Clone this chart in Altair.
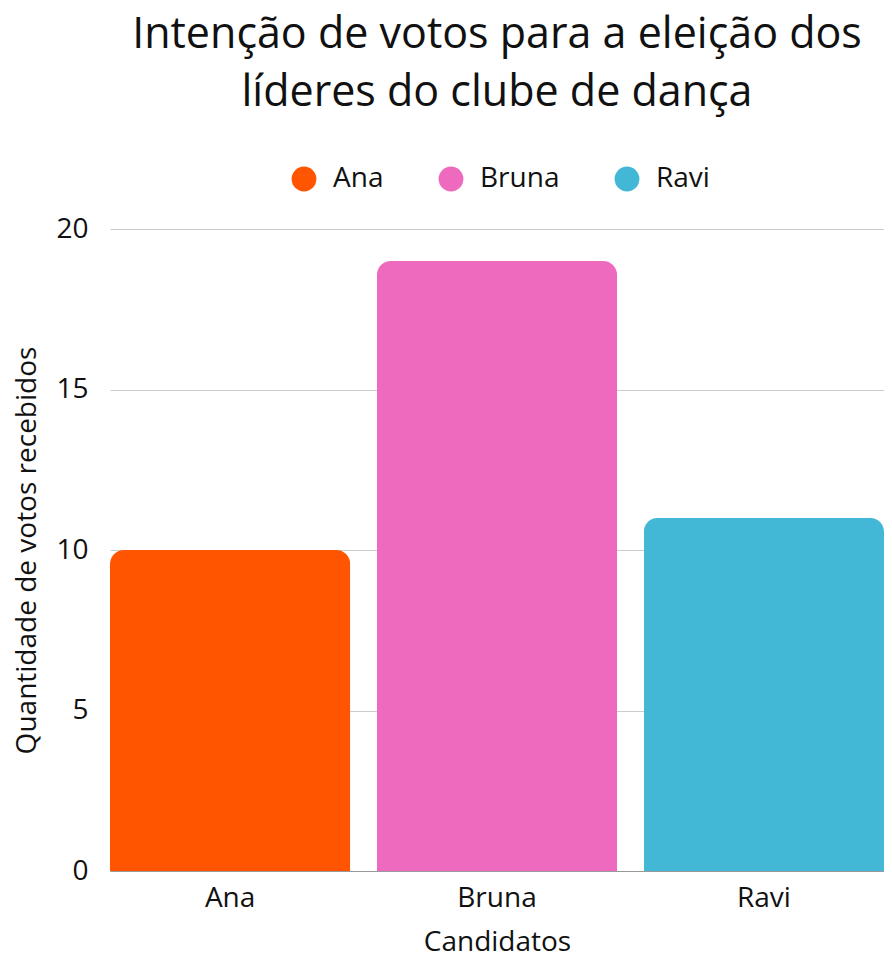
import altair as alt
import pandas as pd

candidatos = ["Ana", "Bruna", "Ravi"]
votos = [10, 19, 11]
cores = ["#FF5500", "#EE6ABF", "#42B7D6"]

df = pd.DataFrame({"Candidatos": candidatos, "Votos": votos})

FONT = "Open Sans"

chart = alt.Chart(df).mark_bar(
    cornerRadiusTopLeft=14, cornerRadiusTopRight=14
).encode(
    x=alt.X("Candidatos:N", sort=candidatos,
            scale=alt.Scale(paddingInner=0.1, paddingOuter=0),
            axis=alt.Axis(title="Candidatos", labelAngle=0, ticks=False,
                          domain=True, domainColor="#999999", domainWidth=1,
                          labelFontSize=28, titleFontSize=28, labelPadding=13,
                          titlePadding=16, labelColor="#111111", titleColor="#111111",
                          titleFontWeight="normal", labelFont=FONT, titleFont=FONT)),
    y=alt.Y("Votos:Q", scale=alt.Scale(domain=[0, 20]),
            axis=alt.Axis(title="Quantidade de votos recebidos", values=[0, 5, 10, 15, 20],
                          ticks=False, domain=False, grid=True, gridColor="#cccccc",
                          labelFontSize=28, titleFontSize=28, labelPadding=22,
                          titlePadding=14, labelColor="#111111", titleColor="#111111",
                          titleFontWeight="normal", labelFont=FONT, titleFont=FONT)),
    color=alt.Color("Candidatos:N", sort=candidatos,
                    scale=alt.Scale(domain=candidatos, range=cores),
                    legend=alt.Legend(orient="none", legendX=180, legendY=-64,
                                      direction="horizontal", title=None, symbolType="circle",
                                      symbolSize=616, symbolStrokeWidth=0, labelFontSize=28,
                                      labelFont=FONT, labelColor="#111111",
                                      columnPadding=53, labelOffset=15)),
).properties(
    width=774,
    height=642,
    title=alt.TitleParams(
        text=["Intenção de votos para a eleição dos", "líderes do clube de dança"],
        fontSize=43, font=FONT, fontWeight="normal", color="#111111",
        lineHeight=58, anchor="middle", offset=50,
    ),
    autosize=alt.AutoSizeParams(type="none"),
    padding={"left": 102, "top": 221, "right": 0, "bottom": 90},
).configure_view(stroke=None)

chart.save("out.html", embed_options={"renderer": "svg", "actions": False})
